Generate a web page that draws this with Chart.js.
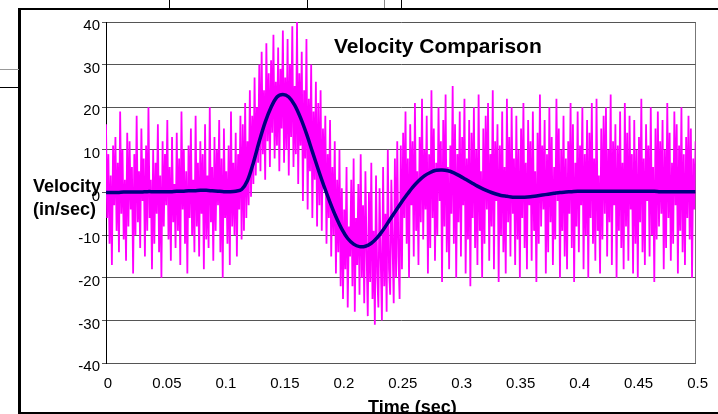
<!DOCTYPE html>
<html lang="en">
<head>
    <meta charset="UTF-8">
    <title>Velocity Comparison</title>
    <script src="https://cdn.jsdelivr.net/npm/chart.js"></script>
    <style>
        body { margin: 0; background: #fff; font-family: "Liberation Sans", Arial, sans-serif; }
        #wrap { position: relative; width: 718px; height: 414px; overflow: hidden; }
        #c { position: absolute; left: 0; top: 0; }
        .ln { position: absolute; background: #000; }
        .txt { position: absolute; font-weight: bold; color: #000; white-space: nowrap; line-height: 1; }
    </style>
</head>
<body>
<div id="wrap">
    <canvas id="c" width="718" height="414"></canvas>
    <div class="txt" style="left:334px; top:35px; font-size:21px;">Velocity Comparison</div>
    <div class="txt" style="left:33px; top:175px; font-size:18px; line-height:23px;">Velocity<br>(in/sec)</div>
    <div class="txt" style="left:368px; top:398px; font-size:18px;">Time (sec)</div>

    <!-- frame lines -->
    <div class="ln" style="left:19px; top:8px; width:699px; height:2px;"></div>
    <div class="ln" style="left:18px; top:8px; width:3px; height:406px;"></div>
    <div class="ln" style="left:19px; top:412px; width:699px; height:2px;"></div>
    <div class="ln" style="left:169px; top:0; width:1px; height:8px;"></div>
    <div class="ln" style="left:307px; top:0; width:1px; height:8px;"></div>
    <div class="ln" style="left:384px; top:0; width:1px; height:8px; background:#888;"></div>
    <div class="ln" style="left:401px; top:0; width:1px; height:8px;"></div>
    <div class="ln" style="left:0; top:69px; width:19px; height:1px; background:#999;"></div>
    <div class="ln" style="left:0; top:87px; width:19px; height:1px;"></div>
</div>

<script>
    // measured velocity, one sample every 1 ms (0 .. 0.5 s)
    const measuredStep = 0.001;
    const measured = [
        16, -6, 9, -12, 4, -17, 11, -3, 13, -9,
        7, -14, 19, -5, 10, -11, 3, -16, 14, -8,
        12, -4, 6, -19, 9, -10, 18, -7, 5, -13,
        15, -2, 8, -15, 11, -9, 20, -6, 3, -18,
        10, -12, 7, -5, 16, -14, 4, -20, 12, -8,
        9, -3, 17, -11, 6, -16, 13, -7, 2, -13,
        14, -9, 8, -17, 19, -4, 10, -12, 5, -19,
        11, -6, 15, -10, 3, -14, 18, -8, 7, -15,
        12, -5, 9, -18, 16, -11, 4, -13, 20, -7,
        6, -16, 13, -9, 10, -3, 17, -14, 8, -20,
        15, -6, 5, -12, 11, -17, 19, -8, 7, -10,
        14, -15, 9, -4, 18, -11,
        // rise
        16, -9, 21, -6, 12, -3, 24, -1, 18, 2, 27, 4, 20, 7, 30,
        // positive pulse
        5, 33, 9, 24, 3, 35, 12, 28, 6, 31,
        14, 37, 8, 26, 11, 34, 5, 29, 15, 38,
        7, 27, 10, 36, 4, 30, 13, 39, 6, 25,
        9, 40, 2, 28, 11, 33, -2, 24, 8, 36,
        -4, 22, 5, 30, -6, 19, 3, 26, -8, 21,
        // fall
        -3, 24, -9, 15, 2, 18, -12, 9, -6, 17,
        -15, 6, -10, 12, -19, 3, -14, 10, -22, 1,
        // negative pulse
        -25, -4, -18, 6, -27, -8, -15, 3, -22, 8,
        -28, -6, -17, 2, -24, 9, -20, -3, -26, 5,
        -14, -29, 0, -21, 7, -25, -9, -31, 4, -19,
        -27, 1, -16, -30, 6, -22, -5, -28, 10, -18,
        -24, 3, -12, -26, 8, -20, 12, -15, -25, 11,
        // settling
        -18, 14, -6, 19, -12, 8, -20, 16, -3, 12,
        -15, 21, -9, 5, -17, 13, -7, 22, -11, 10,
        -4, 18, -19, 9, -13, 24, -6, 15, -16, 7,
        -10, 20, -2, 12, -21, 17, -8, 23, -14, 6,
        -18, 11, -5, 25, -12, 16, -20, 9, -7, 19,
        -15, 13, -3, 22, -19, 8, -11, 17, -22, 14,
        -6, 20, -13, 10, -17, 23, -9, 5, -20, 15,
        -12, 18, -4, 21, -16, 9, -8, 24, -18, 12,
        -2, 16, -21, 11, -10, 19, -14, 6, -19, 22,
        -7, 13, -15, 20, -5, 8, -17, 18, -11, 10,
        -20, 15, -6, 21, -13, 7, -18, 17, -3, 12,
        -16, 19, -9, 5, -21, 14, -12, 23, -8, 11,
        -4, 17, -19, 9, -14, 20, -7, 13, -17, 6,
        -11, 22, -2, 15, -20, 10, -9, 18, -15, 8,
        -18, 12, -5, 21, -13, 16, -21, 7, -8, 19,
        -14, 11, -3, 20, -18, 9, -10, 17, -20, 14,
        -6, 21, -12, 8, -16, 22, -9, 4, -19, 15,
        -11, 18, -5, 20, -15, 10, -7, 23, -17, 12,
        -3, 16, -20, 11, -9, 19, -13, 7, -18, 21,
        -8, 14, -16, 18, -4, 9, -19, 17, -12, 10,
        -20, 13, -7, 22, -14, 8, -17, 16, -2, 11,
        -15, 20, -10, 6, -21, 15, -11, 19, -8, 12,
        -5, 17, -18, 10, -13, 21, -6, 14, -16, 7,
        -12, 19, -3, 16, -19, 11, -9, 20, -14, 9,
        -17, 13, -6, 18, -11, 15, -20, 8, -4, 12
    ];

    // smoothed velocity, one sample every 5 ms
    const smoothStep = 0.005;
    const smooth = [
        0, 0, 0, 0.1, 0.1, 0.1, 0.1, 0.2, 0.2, 0.2, 0.2, 0.2, 0.3,
        0.3, 0.4, 0.4, 0.5, 0.5, 0.4, 0.3, 0.2, 0.2,
        0.3, 0.7, 2.8, 7, 12, 16.5, 20, 22.4, 23, 22.4, 20.5, 17.5, 13.8, 9.6, 5.4, 1.4,
        -2.3, -5.7, -8.6, -10.8, -12.1, -12.7, -12.6, -11.9, -10.6, -8.8, -6.7, -4.6, -2.5,
        -0.6, 1.2, 2.7, 3.9, 4.7, 5.2, 5.3, 5.1, 4.6, 3.9, 3.1, 2.3, 1.5, 0.8, 0.2,
        -0.3, -0.7, -0.9, -1.1, -1.1, -1.1, -1.0, -0.8, -0.6, -0.4, -0.2, 0, 0.1, 0.2, 0.3,
        0.3, 0.3, 0.3, 0.3, 0.3, 0.3, 0.3, 0.3, 0.3, 0.3, 0.3, 0.3, 0.3, 0.2, 0.2, 0.2, 0.2, 0.2, 0.2, 0.2
    ];

    const xTicks = [0, 0.05, 0.1, 0.15, 0.2, 0.25, 0.3, 0.35, 0.4, 0.45, 0.5];
    const yTicks = [-40, -30, -20, -10, 0, 10, 20, 30, 40];

    const toPoints = (vals, step) => vals.map((v, i) => ({ x: +(i * step).toFixed(3), y: v }));

    new Chart(document.getElementById("c"), {
        type: 'line',
        data: {
            datasets: [
                {
                    label: 'Smoothed',
                    data: toPoints(smooth, smoothStep),
                    borderColor: '#000080',
                    borderWidth: 3.5,
                    pointRadius: 0,
                    tension: 0.3,
                    order: 0
                },
                {
                    label: 'Measured',
                    data: toPoints(measured, measuredStep),
                    borderColor: '#ff00ff',
                    borderWidth: 1.8,
                    pointRadius: 0,
                    tension: 0,
                    order: 1
                }
            ]
        },
        options: {
            responsive: false,
            animation: false,
            layout: { padding: { left: 0, right: 21, top: 22, bottom: 0 } },
            plugins: { legend: { display: false }, tooltip: { enabled: false } },
            scales: {
                x: {
                    type: 'linear',
                    min: 0,
                    max: 0.5,
                    afterBuildTicks: (s) => { s.ticks = xTicks.map(v => ({ value: v })); },
                    afterFit: (s) => { s.height = 51; },
                    ticks: {
                        color: '#000',
                        font: { family: 'Liberation Sans', size: 15 },
                        padding: 12,
                        labelOffset: 2,
                        maxRotation: 0,
                        autoSkip: false,
                        callback: (v) => String(+v.toFixed(2))
                    },
                    grid: {
                        drawTicks: false,
                        color: (ctx) => ctx.index === xTicks.length - 1 ? '#777' : 'rgba(0,0,0,0)'
                    },
                    border: { color: '#555' }
                },
                y: {
                    min: -40,
                    max: 40,
                    afterBuildTicks: (s) => { s.ticks = yTicks.map(v => ({ value: v })); },
                    afterFit: (s) => { s.width = 106; },
                    ticks: {
                        color: '#000',
                        font: { family: 'Liberation Sans', size: 15 },
                        padding: 2,
                        labelOffset: 4
                    },
                    grid: { color: '#555', tickLength: 4 },
                    border: { color: '#000' }
                }
            }
        }
    });
</script>
</body>
</html>
